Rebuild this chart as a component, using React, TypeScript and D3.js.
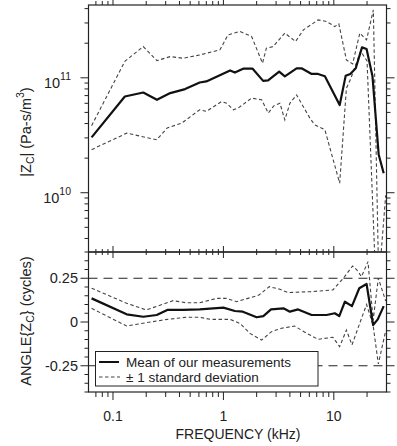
import React from 'react';
import * as d3 from 'd3';

// |Zc| magnitude (Pa-s/m^3)
const magMeanF = [0.064, 0.128, 0.188, 0.25, 0.33, 0.45, 0.61, 0.7, 1.15, 1.27, 1.51, 1.84, 2.29, 2.54, 3.2, 3.6, 4.6, 5.1, 6.3, 7.2, 8.3, 11.3, 12.8, 14.1, 15.8, 18.0, 19.8, 22.4, 25.5, 28.3];
const magMean = [3.03e10, 6.87e10, 7.45e10, 6.44e10, 7.36e10, 7.98e10, 9.1e10, 9.3e10, 1.16e11, 1.11e11, 1.2e11, 1.2e11, 9.4e10, 9.5e10, 1.13e11, 1.03e11, 1.21e11, 1.21e11, 1.08e11, 1.08e11, 1.03e11, 5.8e10, 1.04e11, 1.08e11, 1.21e11, 1.84e11, 1.78e11, 1.03e11, 2.14e10, 1.48e10];

const magUpF = [0.064, 0.128, 0.188, 0.25, 0.33, 0.43, 0.61, 0.93, 1.1, 1.41, 1.8, 2.26, 2.45, 2.82, 3.6, 4.5, 5.3, 7.2, 8.6, 10.2, 11.1, 13, 14.8, 17.2, 19.8, 22.8, 25.8];
const magUp = [3.83e10, 1.39e11, 1.87e11, 1.41e11, 1.53e11, 1.48e11, 1.58e11, 1.75e11, 2.36e11, 2.53e11, 2.29e11, 1.34e11, 1.81e11, 1.87e11, 2.45e11, 2.07e11, 2.61e11, 3.19e11, 3.09e11, 2.79e11, 2.95e11, 1.43e11, 1.32e11, 2.45e11, 2.14e11, 3.9e11, 1e9];

const magLoF = [0.064, 0.133, 0.249, 0.31, 0.42, 0.61, 0.7, 0.96, 1.07, 1.23, 1.36, 1.8, 2.22, 2.55, 2.86, 3.25, 3.6, 4.0, 4.6, 6.07, 6.7, 8.3, 11.3, 13.0, 14.1, 15.8, 17.5, 20.0, 24.5, 29.5];
const magLo = [2.37e10, 3.3e10, 2.89e10, 3.66e10, 4.04e10, 5.27e10, 5.1e10, 6.2e10, 6.0e10, 5.27e10, 5.45e10, 6.66e10, 6.44e10, 4.93e10, 5.7e10, 6.0e10, 4.3e10, 6.0e10, 7.1e10, 4.46e10, 3.9e10, 3.53e10, 1.21e10, 8.1e10, 9.6e10, 1.3e11, 1.7e11, 1.4e11, 1e9, 9.5e9];

// ANGLE{Zc} (cycles)
const angMeanF = [0.064, 0.133, 0.188, 0.249, 0.31, 0.43, 0.61, 1.0, 1.27, 1.5, 2.0, 2.3, 2.7, 3.5, 4.0, 4.75, 6.3, 8.6, 10.2, 11.2, 12.6, 14.6, 17.0, 19.8, 22.7, 25.0, 28.3];
const angMean = [0.135, 0.044, 0.03, 0.04, 0.069, 0.069, 0.072, 0.082, 0.063, 0.059, 0.027, 0.034, 0.072, 0.078, 0.059, 0.072, 0.04, 0.04, 0.05, 0.034, 0.116, 0.091, 0.193, 0.217, -0.017, 0.015, 0.091];

const angUpF = [0.064, 0.133, 0.2, 0.27, 0.35, 0.46, 0.61, 0.87, 1.07, 1.32, 2.1, 2.6, 3.25, 3.87, 6.07, 9.8, 12.2, 14.8, 16.2, 17.8, 20.4, 22.7, 25.3, 29.5];
const angUp = [0.193, 0.107, 0.069, 0.097, 0.122, 0.11, 0.11, 0.135, 0.135, 0.116, 0.154, 0.202, 0.187, 0.168, 0.173, 0.183, 0.25, 0.32, 0.297, 0.259, 0.345, 0.01, 0.25, 0.12];

const angLoF = [0.064, 0.133, 0.2, 0.31, 0.46, 0.61, 0.76, 1.15, 1.41, 1.74, 2.22, 2.73, 3.36, 4.4, 5.7, 7.2, 9.8, 11.3, 13.0, 14.6, 17.8, 19.8, 22.7, 25.3, 29.5];
const angLo = [0.078, -0.023, -0.004, 0.015, 0.027, 0.027, 0.015, 0.015, -0.008, -0.065, -0.103, -0.055, -0.036, -0.023, -0.065, -0.099, -0.087, -0.141, -0.046, -0.131, 0.02, 0.1, -0.02, -0.24, -0.05];

const xMajor = [0.1, 1, 10];
const xMinor = [0.07, 0.08, 0.09, 0.2, 0.3, 0.4, 0.5, 0.6, 0.7, 0.8, 0.9, 2, 3, 4, 5, 6, 7, 8, 9, 20];
const magMajor = [1e10, 1e11];
const magMinor = [4e9, 5e9, 6e9, 7e9, 8e9, 9e9, 2e10, 3e10, 4e10, 5e10, 6e10, 7e10, 8e10, 9e10, 2e11, 3e11, 4e11];
const angMajor = [-0.25, 0, 0.25];
const angMinor = [-0.4, -0.35, -0.3, -0.2, -0.15, -0.1, -0.05, 0.05, 0.1, 0.15, 0.2, 0.3, 0.35, 0.4];
const angLabels = ['-0.25', '0', '0.25'];
const legendItems = ['Mean of our measurements', '\u00b1 1 standard deviation'];

const font = '"Liberation Sans", Arial, Helvetica, sans-serif';
const ink = '#222';

const App: React.FC = () => {
  const left = 88.5, right = 386.5;
  const topY = 5, midY = 252, botY = 392;

  const x = d3.scaleLog().domain([0.06, 30]).range([left, right]);
  const yMag = d3.scaleLog().domain([3.05e9, 4.3e11]).range([midY, topY]);
  const yAng = d3.scaleLinear().domain([-0.4, 0.4]).range([botY, midY]);

  const magLine = d3.line<[number, number]>().x(d => x(d[0])).y(d => yMag(d[1]));
  const angLine = d3.line<[number, number]>().x(d => x(d[0])).y(d => yAng(d[1]));
  const zip = (f: number[], v: number[]) => f.map((d, i) => [d, v[i]] as [number, number]);

  const dashStd = '3.5,2.5';
  const fs = 14.5;

  return (
    <svg width={397} height={446} style={{ position: 'absolute', left: 0, top: 0, background: '#fff' }} fontFamily={font}>
      <defs>
        <clipPath id="clipTop"><rect x={left} y={topY} width={right - left} height={midY - topY} /></clipPath>
        <clipPath id="clipBot"><rect x={left} y={midY} width={right - left} height={botY - midY} /></clipPath>
      </defs>

      {/* top panel lines */}
      <g clipPath="url(#clipTop)" fill="none">
        <path d={magLine(zip(magUpF, magUp)) || ''} stroke="#444" strokeWidth={1.1} strokeDasharray={dashStd} />
        <path d={magLine(zip(magLoF, magLo)) || ''} stroke="#444" strokeWidth={1.1} strokeDasharray={dashStd} />
        <path d={magLine(zip(magMeanF, magMean)) || ''} stroke="#111" strokeWidth={2.2} strokeLinejoin="round" />
      </g>

      {/* bottom panel lines */}
      <g clipPath="url(#clipBot)" fill="none">
        {[0.25, -0.25].map(v => (
          <line key={v} x1={left} x2={right} y1={yAng(v)} y2={yAng(v)} stroke={ink} strokeWidth={1} strokeDasharray="9,6" />
        ))}
        <path d={angLine(zip(angUpF, angUp)) || ''} stroke="#444" strokeWidth={1.1} strokeDasharray={dashStd} />
        <path d={angLine(zip(angLoF, angLo)) || ''} stroke="#444" strokeWidth={1.1} strokeDasharray={dashStd} />
        <path d={angLine(zip(angMeanF, angMean)) || ''} stroke="#111" strokeWidth={2.2} strokeLinejoin="round" />
      </g>

      {/* frames */}
      <rect x={left} y={topY} width={right - left} height={midY - topY} fill="none" stroke={ink} strokeWidth={1.2} />
      <rect x={left} y={midY} width={right - left} height={botY - midY} fill="none" stroke={ink} strokeWidth={1.2} />

      {/* x ticks */}
      <g stroke={ink} strokeWidth={1}>
        {xMinor.map(t => (
          <g key={'xm' + t}>
            <line x1={x(t)} x2={x(t)} y1={topY} y2={topY - 4} />
            <line x1={x(t)} x2={x(t)} y1={midY - 3} y2={midY + 3} />
            <line x1={x(t)} x2={x(t)} y1={botY} y2={botY + 5} />
          </g>
        ))}
        {xMajor.map(t => (
          <g key={'xM' + t}>
            <line x1={x(t)} x2={x(t)} y1={topY} y2={topY - 7} />
            <line x1={x(t)} x2={x(t)} y1={midY - 6} y2={midY + 6} />
            <line x1={x(t)} x2={x(t)} y1={botY} y2={botY + 8} />
          </g>
        ))}
      </g>

      {/* y ticks */}
      <g stroke={ink} strokeWidth={1}>
        {magMinor.map(t => (
          <g key={'mm' + t}>
            <line x1={left} x2={left - 4} y1={yMag(t)} y2={yMag(t)} />
            <line x1={right} x2={right + 4} y1={yMag(t)} y2={yMag(t)} />
          </g>
        ))}
        {magMajor.map(t => (
          <g key={'mM' + t}>
            <line x1={left} x2={left - 8} y1={yMag(t)} y2={yMag(t)} />
            <line x1={right} x2={right + 8} y1={yMag(t)} y2={yMag(t)} />
          </g>
        ))}
        {angMinor.map(t => (
          <g key={'am' + t}>
            <line x1={left} x2={left - 4} y1={yAng(t)} y2={yAng(t)} />
            <line x1={right} x2={right + 4} y1={yAng(t)} y2={yAng(t)} />
          </g>
        ))}
        {angMajor.map(t => (
          <g key={'aM' + t}>
            <line x1={left} x2={left - 8} y1={yAng(t)} y2={yAng(t)} />
            <line x1={right} x2={right + 8} y1={yAng(t)} y2={yAng(t)} />
          </g>
        ))}
      </g>

      {/* tick labels and titles */}
      <g fill={ink} fontSize={fs}>
        {magMajor.map(t => (
          <text key={'ml' + t} x={71} y={yMag(t) + 10} textAnchor="end">
            10<tspan fontSize={10.5} dy={-8}>{Math.round(Math.log10(t))}</tspan>
          </text>
        ))}
        {angMajor.map((t, i) => (
          <text key={'al' + t} x={78} y={yAng(t) + 5} textAnchor="end">{angLabels[i]}</text>
        ))}
        {xMajor.map(t => (
          <text key={'xl' + t} x={x(t)} y={421} textAnchor="middle" fontSize={14}>{String(t)}</text>
        ))}
        <text x={238} y={439} textAnchor="middle" fontSize={14}>FREQUENCY (kHz)</text>
        <text transform={`translate(31,${132}) rotate(-90)`} textAnchor="middle">
          |Z<tspan fontSize={10.5} dy={3}>C</tspan><tspan dy={-3}>| (Pa-s/m</tspan><tspan fontSize={10.5} dy={-7}>3</tspan><tspan dy={7}>)</tspan>
        </text>
        <text transform={`translate(31,${321}) rotate(-90)`} textAnchor="middle">
          ANGLE{'{'}Z<tspan fontSize={10.5} dy={3}>C</tspan><tspan dy={-3}>{'}'} (cycles)</tspan>
        </text>
      </g>

      {/* legend */}
      <g>
        <rect x={95.5} y={351.5} width={222.5} height={34.5} fill="#fff" stroke={ink} strokeWidth={1} />
        <line x1={99} x2={119} y1={362} y2={362} stroke="#111" strokeWidth={2} />
        <line x1={99} x2={120} y1={377} y2={377} stroke="#444" strokeWidth={1.1} strokeDasharray={dashStd} />
        {legendItems.map((s, i) => (
          <text key={s} x={126} y={366.5 + i * 15} fontSize={13.5} fill={ink}>{s}</text>
        ))}
      </g>
    </svg>
  );
};

export default App;
